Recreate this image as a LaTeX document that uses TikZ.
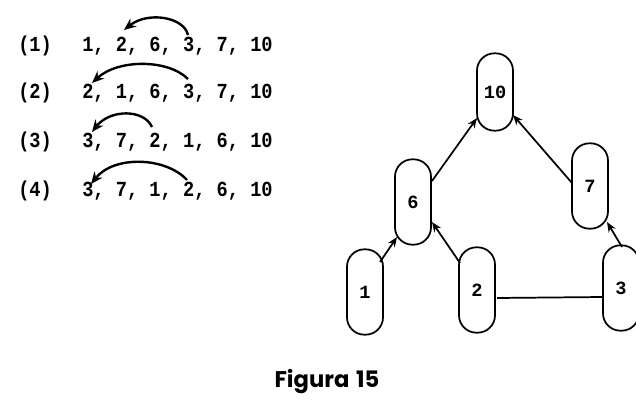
\documentclass[tikz,border=0pt]{standalone}
\usepackage{fontspec}
\newfontfamily\seqfont{Liberation Mono}
\newfontfamily\titlefont{Poppins}
\usetikzlibrary{arrows.meta}
\begin{document}
\begin{tikzpicture}[x=0.75pt,y=-0.75pt,
  vnode/.style={draw, line width=1.3pt, rounded corners=13pt, minimum width=27pt, minimum height=64pt, inner sep=0pt, font=\seqfont\bfseries\fontsize{14}{14}\selectfont},
  arr/.style={line width=1.3pt, -{Stealth[length=7.5pt,width=6pt]}},
  seq/.style={anchor=base west, inner sep=0pt, font=\seqfont\bfseries\fontsize{14}{14}\selectfont},
  curv/.style={line width=1.8pt, -{Stealth[length=9pt,width=7.5pt]}}]
\useasboundingbox (0,0) rectangle (636,406);
% sequences
\foreach \i/\yy/\s in {1/52/{1, 2, 6, 3, 7, 10},2/99/{2, 1, 6, 3, 7, 10},3/148/{3, 7, 2, 1, 6, 10},4/197/{3, 7, 1, 2, 6, 10}}{
  \node[seq] (lab\i) at (18,\yy) {\scalebox{1}[1.15]{(\i)}};
  \node[seq] (row\i) at (82,\yy) {\scalebox{1}[1.15]{\s}};
}
% curved arrows
\coordinate (a1s) at (188,35); \coordinate (a1e) at (124,30);
\coordinate (a2s) at (188,79); \coordinate (a2e) at (92,83);
\coordinate (a3s) at (152,127); \coordinate (a3e) at (92,132);
\coordinate (a4s) at (187,180); \coordinate (a4e) at (91,184);
\draw[curv] (a1s) .. controls (184,17) and (148,11) .. (a1e);
\draw[curv] (a2s) .. controls (168,59) and (118,59) .. (a2e);
\draw[curv] (a3s) .. controls (144,109) and (110,109) .. (a3e);
\draw[curv] (a4s) .. controls (166,157) and (114,155) .. (a4e);
% graph
\node[vnode, minimum height=58pt] (n10) at (495,92) {10};
\node[vnode] (n6) at (413,202) {6};
\node[vnode] (n7) at (590,186) {7};
\node[vnode] (n1) at (365,292) {1};
\node[vnode] (n2) at (477,290) {2};
\node[vnode] (n3) at (621,288) {3};
\draw[arr] ([shift={(15,-30)}]n1.center) -- ([shift={(-16,35)}]n6.center);
\draw[arr] ([shift={(-17,-27)}]n2.center) -- ([shift={(19,20)}]n6.center);
\draw[arr] ([shift={(19,-21)}]n6.center) -- ([shift={(-18,26)}]n10.center);
\draw[arr] ([shift={(-18,-3)}]n7.center) -- ([shift={(18,23)}]n10.center);
\draw[arr] ([shift={(1,-41)}]n3.center) -- ([shift={(17,36)}]n7.center);
\draw[line width=1.3pt] ([shift={(20,8)}]n2.center) -- ([shift={(-18,9)}]n3.center);
% caption
\node[inner sep=0pt, font=\titlefont\bfseries\fontsize{17}{17}\selectfont] (cap) at (327,382) {Figura\hspace{0.3em}15};
\end{tikzpicture}
\end{document}
